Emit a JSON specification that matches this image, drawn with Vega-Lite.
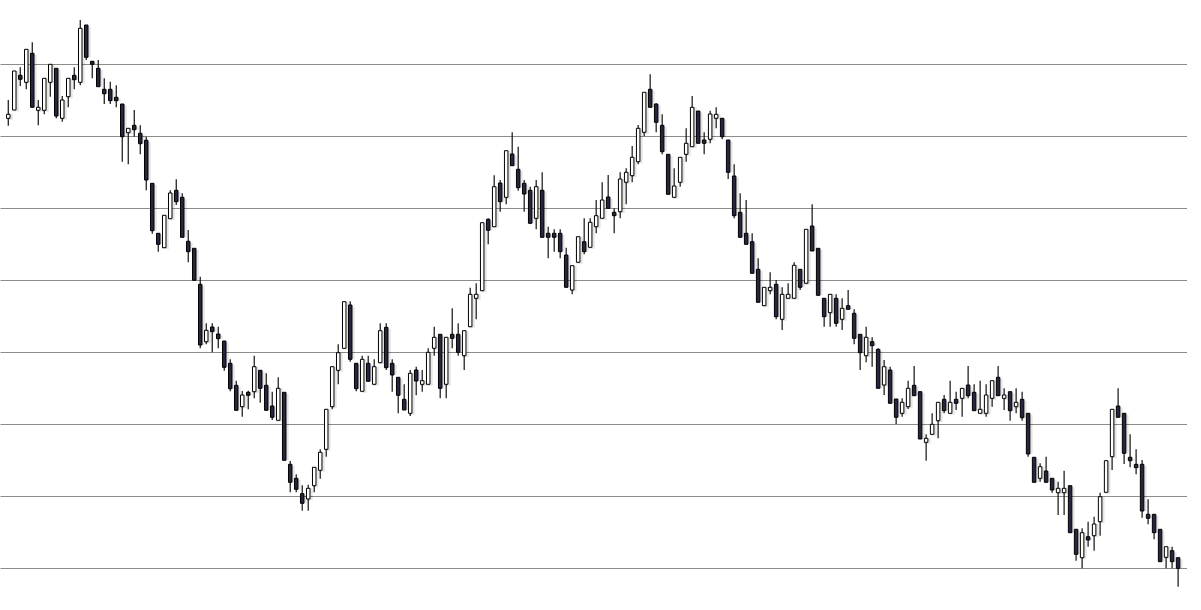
{
  "$schema": "https://vega.github.io/schema/vega-lite/v6.json",
  "width": 1187,
  "height": 610,
  "autosize": {"type": "none"},
  "padding": 0,
  "background": "#ffffff",
  "config": {"view": {"stroke": null}},
  "data": {"values": [
{"i":0,"o":881.7,"h":900,"l":874.3,"c":885.7},
{"i":1,"o":890,"h":929,"l":890,"c":929},
{"i":2,"o":924.7,"h":932.7,"l":914,"c":920.7},
{"i":3,"o":917.7,"h":950.7,"l":910.7,"c":950.7},
{"i":4,"o":946.7,"h":957.7,"l":892.7,"c":892.7},
{"i":5,"o":889.7,"h":900,"l":874.7,"c":892.7},
{"i":6,"o":889.7,"h":921.7,"l":885.7,"c":921.7},
{"i":7,"o":917.7,"h":935.7,"l":903.3,"c":935.7},
{"i":8,"o":931.7,"h":931.7,"l":881.7,"c":884},
{"i":9,"o":881.7,"h":904,"l":878.3,"c":900},
{"i":10,"o":903.3,"h":921.7,"l":892.7,"c":921.7},
{"i":11,"o":924.7,"h":932.7,"l":910.7,"c":920.3},
{"i":12,"o":917.7,"h":980,"l":914.7,"c":971.7},
{"i":13,"o":975,"h":975,"l":940,"c":942.7},
{"i":14,"o":938.7,"h":938.7,"l":921.7,"c":935.7},
{"i":15,"o":931.7,"h":940,"l":913.3,"c":913.3},
{"i":16,"o":910.7,"h":921.7,"l":896,"c":906.3},
{"i":17,"o":910.7,"h":918.3,"l":896,"c":899.3},
{"i":18,"o":902.7,"h":914.7,"l":892.7,"c":899.3},
{"i":19,"o":896,"h":896,"l":838.3,"c":863.3},
{"i":20,"o":867.3,"h":871.7,"l":835.7,"c":871.7},
{"i":21,"o":874.7,"h":890,"l":863.3,"c":870.3},
{"i":22,"o":866.7,"h":874.7,"l":845.7,"c":856.3},
{"i":23,"o":859.7,"h":863.3,"l":809.7,"c":820},
{"i":24,"o":816.7,"h":816.7,"l":766.3,"c":769.3},
{"i":25,"o":766.7,"h":766.7,"l":748.3,"c":755.7},
{"i":26,"o":752.3,"h":784.7,"l":752.3,"c":784.7},
{"i":27,"o":781.3,"h":809.7,"l":781.3,"c":807},
{"i":28,"o":809.7,"h":820.7,"l":795,"c":798.3},
{"i":29,"o":802.7,"h":806.7,"l":762.7,"c":762.7},
{"i":30,"o":758.7,"h":770,"l":737.7,"c":748.3},
{"i":31,"o":751.7,"h":751.7,"l":719.7,"c":719.7},
{"i":32,"o":715.7,"h":723.3,"l":651.7,"c":655},
{"i":33,"o":658.3,"h":676.7,"l":655.7,"c":669.7},
{"i":34,"o":673,"h":676.7,"l":647.7,"c":668.3},
{"i":35,"o":666,"h":673.3,"l":651.7,"c":661.3},
{"i":36,"o":659,"h":659,"l":629.3,"c":632.7},
{"i":37,"o":636.7,"h":640.7,"l":608.7,"c":611.3},
{"i":38,"o":614.7,"h":619.3,"l":589.7,"c":589.7},
{"i":39,"o":593.3,"h":609,"l":583.3,"c":605},
{"i":40,"o":607.7,"h":609.3,"l":590.7,"c":604.7},
{"i":41,"o":608.3,"h":644.3,"l":601.7,"c":633.3},
{"i":42,"o":629.7,"h":629.7,"l":597.3,"c":611.7},
{"i":43,"o":614.7,"h":626.7,"l":589.7,"c":589.7},
{"i":44,"o":594,"h":608.3,"l":580,"c":582.7},
{"i":45,"o":579.7,"h":622.7,"l":579.7,"c":611.7},
{"i":46,"o":607.7,"h":607.7,"l":539.7,"c":539.7},
{"i":47,"o":535.7,"h":539,"l":507.7,"c":517.7},
{"i":48,"o":521.7,"h":525.7,"l":507.7,"c":510.7},
{"i":49,"o":506.3,"h":514.7,"l":489.3,"c":496.7},
{"i":50,"o":501,"h":515.3,"l":489.3,"c":511.7},
{"i":51,"o":514.3,"h":532.7,"l":507.7,"c":532.7},
{"i":52,"o":529.7,"h":550.7,"l":521.3,"c":547.7},
{"i":53,"o":550.7,"h":590.7,"l":543.3,"c":590.7},
{"i":54,"o":593.3,"h":633.3,"l":590.7,"c":633.3},
{"i":55,"o":629.7,"h":655.7,"l":615.7,"c":647.3},
{"i":56,"o":651.7,"h":698.3,"l":651.7,"c":698.3},
{"i":57,"o":695,"h":698.7,"l":638.3,"c":640.7},
{"i":58,"o":636.7,"h":636.7,"l":608.7,"c":611.3},
{"i":59,"o":608.7,"h":644.3,"l":608.7,"c":640.7},
{"i":60,"o":636.7,"h":644.3,"l":618.7,"c":618.7},
{"i":61,"o":615.7,"h":640.7,"l":615.7,"c":633.3},
{"i":62,"o":637.3,"h":676.7,"l":637.3,"c":669.3},
{"i":63,"o":672.7,"h":676.7,"l":630,"c":632.3},
{"i":64,"o":636.7,"h":640.7,"l":608.3,"c":625},
{"i":65,"o":622.7,"h":622.7,"l":586.7,"c":604.7},
{"i":66,"o":600.7,"h":615.7,"l":590,"c":590},
{"i":67,"o":586.7,"h":630,"l":584,"c":626.7},
{"i":68,"o":630,"h":633.3,"l":604.7,"c":619},
{"i":69,"o":615.7,"h":630,"l":608.3,"c":619.3},
{"i":70,"o":615.7,"h":651.7,"l":615.7,"c":647.7},
{"i":71,"o":651.7,"h":673.3,"l":644.3,"c":662.7},
{"i":72,"o":665.7,"h":665.7,"l":601.7,"c":611.7},
{"i":73,"o":615.7,"h":662.7,"l":601.7,"c":662.7},
{"i":74,"o":665.7,"h":691.7,"l":651.7,"c":661.7},
{"i":75,"o":665.7,"h":676.7,"l":644.3,"c":647.7},
{"i":76,"o":644.3,"h":669.3,"l":630,"c":669.3},
{"i":77,"o":673.3,"h":712.3,"l":673.3,"c":705.7},
{"i":78,"o":701.7,"h":716.7,"l":680.7,"c":705.7},
{"i":79,"o":709.3,"h":777.3,"l":709.3,"c":777.3},
{"i":80,"o":780.7,"h":781.7,"l":755.7,"c":769.7},
{"i":81,"o":773.3,"h":824.7,"l":773.3,"c":813.3},
{"i":82,"o":817,"h":820,"l":788.3,"c":798.3},
{"i":83,"o":802.7,"h":849.3,"l":795.7,"c":849.3},
{"i":84,"o":846,"h":867.7,"l":834.3,"c":834.3},
{"i":85,"o":830.7,"h":853.3,"l":809.3,"c":812.3},
{"i":86,"o":816.7,"h":820,"l":788.3,"c":806},
{"i":87,"o":809.7,"h":813.3,"l":776.7,"c":776.7},
{"i":88,"o":781.7,"h":820,"l":770.7,"c":813.3},
{"i":89,"o":809.7,"h":827.7,"l":762.7,"c":762.7},
{"i":90,"o":766.7,"h":773.3,"l":741.7,"c":762.7},
{"i":91,"o":766.7,"h":770.7,"l":748.3,"c":762.7},
{"i":92,"o":766.7,"h":770.7,"l":741.7,"c":748.3},
{"i":93,"o":745,"h":752.3,"l":712.7,"c":712.7},
{"i":94,"o":710,"h":734.3,"l":705.7,"c":734.3},
{"i":95,"o":737.7,"h":763.3,"l":737.7,"c":763.3},
{"i":96,"o":758.3,"h":781.7,"l":745.7,"c":748.3},
{"i":97,"o":752.7,"h":781.7,"l":752.7,"c":777.7},
{"i":98,"o":773.3,"h":800,"l":766.7,"c":784.3},
{"i":99,"o":781.7,"h":817.7,"l":781.7,"c":800},
{"i":100,"o":803,"h":825,"l":791.7,"c":791.7},
{"i":101,"o":787.7,"h":791.7,"l":766.7,"c":784.3},
{"i":102,"o":788.3,"h":827.7,"l":781.7,"c":821},
{"i":103,"o":817.7,"h":831.7,"l":795.7,"c":827.7},
{"i":104,"o":824.3,"h":854,"l":817.7,"c":842.7},
{"i":105,"o":838.3,"h":875,"l":835.7,"c":871.7},
{"i":106,"o":867.7,"h":907.7,"l":863.7,"c":907.7},
{"i":107,"o":910.7,"h":925.7,"l":892.7,"c":892.7},
{"i":108,"o":896,"h":896.7,"l":867.7,"c":877.7},
{"i":109,"o":874.7,"h":885.7,"l":845.7,"c":848.3},
{"i":110,"o":845.7,"h":845.7,"l":805.7,"c":805.7},
{"i":111,"o":802.7,"h":831.7,"l":802.7,"c":814},
{"i":112,"o":817.7,"h":842.7,"l":813.3,"c":842.7},
{"i":113,"o":845.7,"h":871.7,"l":838.3,"c":856.7},
{"i":114,"o":853.3,"h":904,"l":853.3,"c":892.7},
{"i":115,"o":889,"h":889,"l":856.7,"c":856.7},
{"i":116,"o":860,"h":867.7,"l":845.7,"c":856.7},
{"i":117,"o":860.7,"h":889.3,"l":856.7,"c":886},
{"i":118,"o":881.7,"h":892.7,"l":871.7,"c":885.7},
{"i":119,"o":881.7,"h":881.7,"l":860.7,"c":863.3},
{"i":120,"o":860,"h":860,"l":821,"c":827.7},
{"i":121,"o":824,"h":835.7,"l":781.7,"c":784.3},
{"i":122,"o":787.7,"h":806.7,"l":762.7,"c":762.7},
{"i":123,"o":766.7,"h":800,"l":755.7,"c":755.7},
{"i":124,"o":758.3,"h":766.7,"l":726.7,"c":726.7},
{"i":125,"o":730.7,"h":741.7,"l":697.7,"c":697.7},
{"i":126,"o":694.3,"h":712.7,"l":694.3,"c":712.7},
{"i":127,"o":709.3,"h":727.7,"l":705.7,"c":712.7},
{"i":128,"o":715.7,"h":720,"l":680.7,"c":683.3},
{"i":129,"o":680.7,"h":712.7,"l":670,"c":705.7},
{"i":130,"o":701.7,"h":716.7,"l":701.7,"c":705.7},
{"i":131,"o":701.7,"h":737.7,"l":701.7,"c":734.7},
{"i":132,"o":730.7,"h":730.7,"l":710,"c":712.7},
{"i":133,"o":716.7,"h":770.7,"l":716.7,"c":770.7},
{"i":134,"o":774,"h":795.7,"l":749,"c":749},
{"i":135,"o":751.7,"h":751.7,"l":704.7,"c":704.7},
{"i":136,"o":701.7,"h":701.7,"l":673.3,"c":683.3},
{"i":137,"o":687.3,"h":705.7,"l":673.3,"c":705.7},
{"i":138,"o":701.7,"h":705.7,"l":673.3,"c":676.7},
{"i":139,"o":680.7,"h":701.7,"l":670,"c":691.7},
{"i":140,"o":694.3,"h":710,"l":690.7,"c":690.7},
{"i":141,"o":686.7,"h":690.7,"l":655.7,"c":661.7},
{"i":142,"o":665.7,"h":665.7,"l":630,"c":647.3},
{"i":143,"o":644.3,"h":673.3,"l":637.7,"c":662.7},
{"i":144,"o":658.3,"h":662.7,"l":633.3,"c":654.3},
{"i":145,"o":650.7,"h":651.7,"l":611.7,"c":611.7},
{"i":146,"o":615,"h":640,"l":605,"c":633.3},
{"i":147,"o":630,"h":633.3,"l":596.7,"c":596.7},
{"i":148,"o":601,"h":601,"l":576,"c":582.7},
{"i":149,"o":586.7,"h":601.7,"l":583.3,"c":597.7},
{"i":150,"o":593.3,"h":619.3,"l":591,"c":611.7},
{"i":151,"o":614.7,"h":634,"l":604.3,"c":604.3},
{"i":152,"o":608.3,"h":608.3,"l":561,"c":561},
{"i":153,"o":557.7,"h":565.7,"l":539.3,"c":561.7},
{"i":154,"o":565.7,"h":586.7,"l":565.7,"c":575.7},
{"i":155,"o":579.3,"h":597.7,"l":561.7,"c":597.7},
{"i":156,"o":600.7,"h":605,"l":586.7,"c":589.3},
{"i":157,"o":586.7,"h":619.3,"l":586.7,"c":597.7},
{"i":158,"o":600.7,"h":608.3,"l":590,"c":596.7},
{"i":159,"o":601.7,"h":611.7,"l":583.3,"c":611.7},
{"i":160,"o":615,"h":634,"l":601.7,"c":604.3},
{"i":161,"o":607.7,"h":615.7,"l":589.3,"c":589.3},
{"i":162,"o":586.7,"h":619.3,"l":586.7,"c":590.7},
{"i":163,"o":586.7,"h":615.7,"l":583.3,"c":605},
{"i":164,"o":601.7,"h":619.3,"l":593.3,"c":619.3},
{"i":165,"o":622.7,"h":634,"l":604.3,"c":604.3},
{"i":166,"o":601.7,"h":611.7,"l":590,"c":605},
{"i":167,"o":608.3,"h":608.3,"l":579.3,"c":589.3},
{"i":168,"o":593.3,"h":611.7,"l":586.7,"c":597.7},
{"i":169,"o":600.7,"h":608.3,"l":579.3,"c":582.3},
{"i":170,"o":586.7,"h":586.7,"l":543.3,"c":546},
{"i":171,"o":542.7,"h":542.7,"l":517.7,"c":517.7},
{"i":172,"o":521.7,"h":536.7,"l":518.3,"c":533.3},
{"i":173,"o":529,"h":543.3,"l":517.7,"c":517.7},
{"i":174,"o":521.7,"h":521.7,"l":507.3,"c":510},
{"i":175,"o":507.3,"h":518.3,"l":485,"c":511.7},
{"i":176,"o":507.3,"h":529.3,"l":485,"c":511.7},
{"i":177,"o":514.3,"h":514.3,"l":467.3,"c":467.3},
{"i":178,"o":470.7,"h":470.7,"l":439.3,"c":445.7},
{"i":179,"o":442.3,"h":471.7,"l":431.7,"c":467.3},
{"i":180,"o":463.3,"h":478.3,"l":453.3,"c":460},
{"i":181,"o":464.3,"h":483.3,"l":449.3,"c":476},
{"i":182,"o":478.3,"h":507.3,"l":464.3,"c":503.3},
{"i":183,"o":507.7,"h":539.3,"l":507.7,"c":539.3},
{"i":184,"o":543.3,"h":590.7,"l":530,"c":590.7},
{"i":185,"o":594,"h":611.7,"l":582.7,"c":582.7},
{"i":186,"o":586.7,"h":586.7,"l":536,"c":546.7},
{"i":187,"o":542.7,"h":565.7,"l":532.7,"c":539.3},
{"i":188,"o":535.7,"h":550.7,"l":525.7,"c":532.3},
{"i":189,"o":535.7,"h":540,"l":482.3,"c":489},
{"i":190,"o":485.7,"h":500.7,"l":475.7,"c":481.7},
{"i":191,"o":485.7,"h":485.7,"l":460.7,"c":467.3},
{"i":192,"o":470.7,"h":470.7,"l":438.3,"c":438.3},
{"i":193,"o":442.7,"h":453.3,"l":431.7,"c":453.3},
{"i":194,"o":449.3,"h":453.3,"l":431.7,"c":438.3},
{"i":195,"o":442.3,"h":442.3,"l":413.3,"c":431.7}
  ]},
  "encoding": {
    "x": {"field": "i", "type": "quantitative", "scale": {"domain": [-0.545, 195.65], "nice": false, "zero": false}, "axis": null}
  },
  "layer": [
    {
      "mark": {"type": "bar", "size": 6, "fill": "#000000", "opacity": 0.1, "xOffset": 1.5, "yOffset": 1.5, "stroke": null},
      "encoding": {
        "y": {"field": "o", "type": "quantitative", "scale": {"domain": [390, 1000], "nice": false, "zero": false},
          "axis": {"values": [432, 504, 576, 648, 720, 792, 864, 936], "labels": false, "ticks": false, "domain": false, "title": null, "grid": true, "gridColor": "#8c8c8c", "gridWidth": 1, "gridOpacity": 1}},
        "y2": {"field": "c"}
      }
    },
    {
      "mark": {"type": "rule", "color": "#111111", "strokeWidth": 1.2},
      "encoding": {
        "y": {"field": "l", "type": "quantitative"},
        "y2": {"field": "h"}
      }
    },
    {
      "mark": {"type": "bar", "size": 3.5, "stroke": "#000000", "strokeWidth": 1},
      "encoding": {
        "y": {"field": "o", "type": "quantitative"},
        "y2": {"field": "c"},
        "fill": {"condition": {"test": "datum.c > datum.o", "value": "#ffffff"}, "value": "#2b2340"}
      }
    }
  ]
}
